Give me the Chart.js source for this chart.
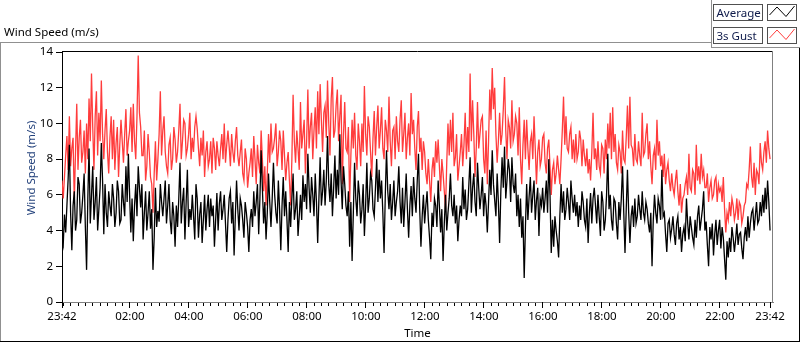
<!DOCTYPE html>
<html><head><meta charset="utf-8">
<script src="https://cdn.jsdelivr.net/npm/chart.js@4.4.1/dist/chart.umd.min.js"></script>
<style>html,body{margin:0;padding:0;background:#fff;overflow:hidden}canvas{display:block}</style>
</head><body>
<canvas id="c" width="800" height="342"></canvas>
<script>
// ---- data ----
const chartTitle = 'Wind Speed (m/s)';
const yAxisTitle = 'Wind Speed (m/s)';
const xAxisTitle = 'Time';
const seriesNames = ['Average', '3s Gust'];
const stepMinutes = 2.5;          // sample spacing (minutes after 23:42)
const axisMaxMinutes = 1446;
const majorTickMinutes = [0, 138, 258, 378, 498, 618, 738, 858, 978, 1098, 1218, 1338, 1440];
const majorTickLabels = ['23:42', '02:00', '04:00', '06:00', '08:00', '10:00', '12:00', '14:00', '16:00', '18:00', '20:00', '22:00', '23:42'];
const minorTickFirst = 3, minorTickStep = 15;
const yTickValues = [0, 2, 4, 6, 8, 10, 12, 14];

const averageSpeed = [
3.6,3.2,4.9,3.9,5.4,6.9,8.8,5.0,2.9,5.4,6.2,4.0,4.6,7.0,6.6,4.4,5.0,6.0,7.2,4.2,
1.8,5.8,8.6,4.4,6.0,7.6,4.6,5.6,7.0,4.0,5.2,6.4,8.9,6.8,3.8,6.6,5.0,4.2,6.2,5.4,
4.8,6.6,5.8,4.2,5.0,6.8,6.2,4.4,4.6,6.6,5.6,4.8,7.6,5.6,8.3,6.0,3.9,5.8,3.4,5.4,
6.6,4.8,7.6,6.4,5.3,6.6,3.5,5.0,6.2,4.0,5.0,6.2,4.1,5.2,1.8,3.6,6.4,4.2,5.1,4.5,
6.6,5.6,4.8,5.8,6.8,4.4,5.4,6.6,4.6,3.8,5.6,4.8,3.1,5.4,4.2,5.8,7.8,4.4,5.6,6.4,
3.5,5.6,7.4,4.2,5.2,4.6,6.0,4.8,3.5,6.6,5.8,3.6,4.9,5.6,3.3,4.6,6.0,4.0,5.2,6.0,
4.2,5.8,4.8,5.4,3.1,4.6,6.1,4.0,5.5,6.2,4.6,5.2,6.0,4.4,2.8,4.6,5.8,6.2,4.4,5.6,
2.6,4.8,6.8,5.2,
4.0,5.8,5.4,4.6,3.6,5.6,5.0,4.2,2.8,4.6,5.2,4.2,6.2,4.8,5.6,6.6,3.8,5.8,8.5,6.4,
4.4,5.6,3.5,5.0,7.2,5.6,4.2,5.8,7.8,6.0,5.0,4.4,6.8,5.2,2.9,5.4,7.0,4.8,6.2,4.6,
2.8,5.6,4.2,5.8,7.2,4.6,5.2,6.2,3.7,4.8,6.0,4.6,7.1,5.6,6.6,5.2,8.3,6.4,5.0,7.0,
6.0,4.8,7.2,5.6,3.3,5.8,8.1,5.4,6.2,7.4,5.4,6.8,9.3,6.6,5.6,7.2,4.8,6.4,8.2,5.8,
7.4,6.0,9.4,6.8,5.2,7.6,6.6,5.4,4.8,6.2,3.1,5.6,2.3,5.0,7.8,5.8,4.8,6.8,6.0,4.4,
5.2,6.6,3.7,5.4,7.8,5.0,5.8,7.2,6.8,5.2,4.8,6.4,8.0,5.6,7.4,5.8,6.8,5.0,2.75,6.0,
8.5,6.2,5.2,6.6,4.6,5.6,6.8,4.8,5.6,6.2,7.6,5.6,4.4,6.4,4.2,5.6,7.2,5.2,3.6,5.4,
6.5,4.8,7.0,5.8,5.0,6.8,
8.3,5.2,3.1,4.8,6.0,4.4,5.4,6.2,4.6,3.6,2.4,5.0,4.2,5.8,5.4,4.2,6.8,5.4,3.9,5.2,
2.3,4.4,6.0,4.0,5.0,5.8,7.2,5.4,4.8,6.0,4.4,5.4,3.4,4.6,5.4,4.8,7.0,5.2,6.3,4.6,
5.2,6.6,8.1,5.0,6.4,7.2,5.6,4.8,7.8,6.4,5.2,6.0,7.0,4.8,6.1,5.4,3.9,5.6,7.4,6.0,
8.5,6.6,5.7,4.8,7.2,5.6,3.3,6.2,8.1,6.4,8.7,5.8,6.8,8.0,7.4,5.6,8.1,6.6,6.1,7.2,
4.8,6.0,4.2,5.8,3.6,4.8,1.35,4.2,6.6,4.6,5.9,7.0,5.0,6.0,6.8,4.6,5.7,6.4,3.7,5.8,
5.4,6.4,5.0,5.8,6.8,5.0,8.0,6.0,2.75,4.6,3.1,4.8,4.0,3.4,2.5,4.8,6.6,5.0,6.2,4.6,
5.2,6.4,5.6,4.6,6.8,5.8,5.0,6.0,4.8,5.6,4.2,5.4,4.6,6.2,5.6,4.6,4.2,5.8,3.3,5.0,
6.1,4.4,5.8,6.4,5.4,4.4,
6.0,4.8,3.7,6.2,5.6,4.0,4.6,6.0,8.3,5.2,6.0,4.6,4.0,5.8,5.6,4.4,3.5,5.6,4.6,5.8,
7.6,5.0,2.75,5.2,7.4,5.0,3.3,4.8,5.4,4.2,5.8,4.4,4.8,6.0,5.2,4.6,6.2,5.0,4.6,5.6,
5.2,4.4,3.9,5.0,2.0,4.6,6.0,5.0,4.4,5.8,5.4,4.6,7.4,4.8,5.0,3.8,2.8,4.4,4.6,3.6,
4.1,4.8,3.8,3.2,4.4,4.8,3.5,4.2,2.8,3.8,4.2,3.4,5.8,4.4,3.5,4.8,4.2,3.6,3.2,4.6,
3.6,4.8,5.4,4.0,4.6,5.2,6.2,4.0,4.5,3.2,2.0,4.2,3.5,4.4,2.6,3.8,4.6,3.2,4.0,4.6,
3.0,4.2,3.6,2.4,1.25,3.4,2.5,3.6,2.8,4.2,3.6,2.8,3.5,4.4,3.2,3.8,3.9,3.0,2.4,3.6,
4.2,3.4,4.8,3.6,4.4,5.0,5.2,4.0,4.8,5.6,4.4,4.6,5.6,4.8,6.0,5.0,6.4,5.2,6.8,5.6,
4.0
];

const gustSpeed = [
6.8,5.8,7.0,8.2,9.3,7.4,10.4,7.6,8.6,9.2,5.6,8.4,11.1,7.4,9.2,10.2,7.8,8.4,9.6,7.2,
10.0,8.0,11.4,9.0,12.8,9.8,7.4,10.4,11.8,8.2,10.6,9.0,12.4,9.4,8.0,9.6,10.8,8.4,7.2,9.2,
10.4,8.0,10.2,7.4,8.9,9.8,7.0,8.8,10.2,9.0,7.8,9.4,10.8,8.2,9.0,9.6,10.9,8.4,11.1,9.0,
8.0,10.4,13.8,10.6,9.8,8.2,8.2,9.6,6.8,7.6,9.4,8.4,7.0,6.6,5.0,7.2,9.0,6.8,8.0,9.4,
11.8,8.2,9.6,10.4,8.4,7.6,7.2,8.8,9.2,7.4,8.0,9.8,9.1,7.8,8.4,9.6,11.1,8.0,9.0,10.2,
10.0,8.2,8.6,9.4,10.6,8.0,9.2,8.4,9.8,10.4,9.7,8.6,7.6,9.2,8.2,9.6,7.0,8.4,9.0,7.6,
8.0,9.0,7.2,9.2,8.6,7.4,9.0,8.2,7.6,8.6,9.4,8.0,10.0,7.8,8.8,9.6,8.7,7.6,9.4,8.4,
7.8,9.0,9.8,8.2,
7.6,8.4,9.1,7.2,6.8,8.6,8.0,6.4,7.2,7.8,8.6,7.0,9.3,8.0,6.6,8.8,7.8,7.2,9.6,8.0,
6.2,7.6,5.4,7.2,9.4,7.8,10.0,8.4,8.6,9.2,10.0,7.6,8.4,9.6,9.0,7.4,9.6,8.2,6.8,7.8,
8.4,6.8,5.4,8.0,11.6,9.0,7.8,9.6,8.6,7.4,11.2,8.6,9.4,10.2,7.2,9.0,11.9,8.6,9.8,10.6,
8.0,9.6,10.9,8.6,11.8,9.4,12.2,10.2,8.4,10.6,11.0,9.2,12.4,10.0,8.2,11.4,12.6,9.2,9.6,11.0,
11.9,9.0,10.4,11.6,6.6,9.4,11.2,8.6,8.4,9.8,5.6,8.2,10.2,8.6,10.6,8.2,7.4,10.0,9.0,7.6,
10.0,8.4,12.1,9.4,8.2,10.4,9.8,8.4,7.0,9.2,10.7,8.2,9.8,11.0,8.6,9.6,10.9,8.6,8.0,10.2,
9.6,8.4,11.5,9.0,7.6,9.6,9.8,8.0,10.4,9.0,8.4,10.2,11.3,8.4,9.4,10.6,8.0,9.2,10.0,8.2,
11.7,9.4,10.2,8.6,7.4,9.8,
10.7,8.4,9.2,7.4,9.0,8.4,7.2,6.6,8.0,6.8,5.6,7.4,8.1,7.0,9.0,7.8,9.1,7.6,6.2,8.0,
7.2,6.2,5.2,7.8,10.0,8.2,10.2,8.4,10.6,7.6,8.1,9.4,6.8,7.6,8.4,9.4,7.6,8.8,10.6,8.0,
9.8,8.4,12.8,9.0,11.3,9.4,7.0,8.6,11.2,8.6,9.4,10.2,10.4,8.0,7.2,9.6,6.6,9.0,11.9,10.2,
13.1,10.8,12.0,9.4,7.8,9.0,10.6,8.8,9.4,10.8,12.6,9.6,8.0,10.2,9.8,8.6,11.3,9.0,9.4,10.4,
10.0,8.2,10.9,8.0,6.6,8.8,10.2,8.0,10.2,8.6,7.4,9.0,9.4,8.0,10.4,8.6,6.6,8.4,9.1,7.6,
8.0,9.2,9.4,7.8,7.2,8.6,9.1,7.6,6.0,7.4,7.8,6.6,7.2,8.2,7.4,6.6,8.0,9.6,11.5,8.8,
10.4,8.6,8.4,9.4,9.8,8.0,9.1,7.8,9.4,8.0,8.4,9.6,9.1,7.6,9.1,8.2,7.6,8.6,7.2,8.0,
6.8,8.4,10.6,8.0,8.6,7.4,
9.0,7.6,7.2,8.8,8.6,7.2,9.1,8.0,10.0,8.6,10.6,8.0,10.9,8.4,9.4,7.8,7.4,8.8,8.4,7.2,
9.6,8.0,7.8,9.2,11.0,8.6,11.5,8.8,8.6,7.6,9.4,8.0,7.8,9.0,8.2,7.6,10.6,8.2,8.4,9.4,
10.0,8.0,9.0,7.6,6.6,8.2,8.6,7.4,10.2,8.2,9.0,7.6,8.2,7.0,8.3,6.6,7.4,7.8,6.8,6.2,
7.2,6.4,6.0,6.8,7.4,6.2,5.4,6.6,5.0,5.8,6.0,6.6,7.0,6.0,8.3,6.4,6.2,7.4,7.2,6.0,
8.8,6.8,7.6,6.6,8.3,7.0,7.4,6.4,6.4,7.2,5.6,6.4,6.8,5.8,6.0,6.8,7.0,5.6,6.6,6.2,
6.4,5.6,7.0,5.2,3.9,5.0,4.6,5.6,4.8,5.8,5.4,4.6,5.0,5.8,4.6,5.6,5.4,4.4,4.8,5.4,
5.6,6.6,6.4,7.4,8.7,7.0,6.4,7.8,6.0,7.4,7.2,6.6,8.9,7.8,7.4,8.4,9.0,7.8,9.6,8.6,
8.0
];

// ---- styles ----
const FONT = '"Noto Sans", "DejaVu Sans", sans-serif';
const FS = 11.5;
const avgColor = '#000000';
const gustColor = '#ff3c3c';
Chart.defaults.font.family = FONT;
Chart.defaults.font.size = FS;
Chart.defaults.color = '#000';

const toPoints = arr => arr.map((v, i) => ({x: i * stepMinutes, y: v}));

const decorPlugin = {
  id: 'decor',
  afterDraw(chart) {
    const {ctx, chartArea: a, scales} = chart;
    ctx.save();
    ctx.lineWidth = 1;
    const line = (x1, y1, x2, y2, c) => { ctx.strokeStyle = c; ctx.beginPath(); ctx.moveTo(x1, y1); ctx.lineTo(x2, y2); ctx.stroke(); };
    // plot frame: top black, right gray
    line(a.left, a.top - 0.5, a.right, a.top - 0.5, '#000');
    line(a.right - 0.5, a.top - 1, a.right - 0.5, a.bottom + 1, '#808080');
    // longer major ticks on the time axis
    const xs = scales.x;
    majorTickMinutes.forEach(m => {
      const px = Math.round(xs.getPixelForValue(m) - 0.5) + 0.5;
      line(px, a.bottom, px, a.bottom + 6, '#000');
    });
    // outer frame
    line(0, 42.5, 712, 42.5, '#909090');
    line(0.5, 42, 0.5, 342, '#909090');
    line(0, 341.5, 800, 341.5, '#000');
    line(799.5, 48, 799.5, 342, '#000');
    // legend frame
    line(711.5, 0, 711.5, 48, '#909090');
    line(711, 47.5, 800, 47.5, '#909090');
    // chart title
    ctx.fillStyle = '#000';
    ctx.font = FS + 'px ' + FONT;
    ctx.textAlign = 'left';
    ctx.textBaseline = 'alphabetic';
    ctx.fillText(chartTitle, 4, 36);
    // y axis title
    ctx.save();
    ctx.translate(34.5, 168);
    ctx.rotate(-Math.PI / 2);
    ctx.textAlign = 'center';
    ctx.fillStyle = '#24427c';
    ctx.fillText(yAxisTitle, 0, 0);
    ctx.restore();
    // legend
    const rows = [{name: seriesNames[0], color: avgColor, y: 4.5}, {name: seriesNames[1], color: gustColor, y: 27.5}];
    rows.forEach(r => {
      ctx.strokeStyle = '#505050';
      ctx.strokeRect(713.5, r.y, 49, 16);
      ctx.strokeRect(767.5, r.y, 29, 16);
      ctx.fillStyle = '#0e1a4a';
      ctx.textAlign = 'left';
      ctx.fillText(r.name, 716.5, r.y + 12.8);
      ctx.strokeStyle = r.color;
      ctx.beginPath();
      ctx.moveTo(769.5, r.y + 10.5);
      ctx.lineTo(777, r.y + 2.5);
      ctx.lineTo(786, r.y + 12);
      ctx.lineTo(794.5, r.y + 1.5);
      ctx.stroke();
    });
    ctx.restore();
  }
};

new Chart(document.getElementById('c'), {
  type: 'line',
  data: {
    datasets: [
      {label: seriesNames[0], data: toPoints(averageSpeed), borderColor: avgColor, borderWidth: 1.3, pointRadius: 0, tension: 0, fill: false},
      {label: seriesNames[1], data: toPoints(gustSpeed), borderColor: gustColor, borderWidth: 1.3, pointRadius: 0, tension: 0, fill: false}
    ]
  },
  options: {
    responsive: false,
    animation: false,
    devicePixelRatio: 1,
    parsing: false,
    layout: {padding: {top: 52, right: 27, left: 0, bottom: 0}},
    plugins: {legend: {display: false}, tooltip: {enabled: false}, title: {display: false}},
    scales: {
      x: {
        type: 'linear', min: 0, max: axisMaxMinutes,
        afterBuildTicks(scale) {
          const s = new Set(majorTickMinutes);
          for (let m = minorTickFirst; m < majorTickMinutes[majorTickMinutes.length - 1]; m += minorTickStep) s.add(m);
          scale.ticks = [...s].sort((p, q) => p - q).map(v => ({value: v}));
        },
        afterFit(scale) { scale.height = 40; },
        grid: {display: true, drawOnChartArea: false, drawTicks: true, tickLength: 4, tickColor: '#000'},
        border: {display: true, color: '#808080'},
        ticks: {
          autoSkip: false, maxRotation: 0, minRotation: 0, padding: 4, color: '#000',
          callback(v) { const k = majorTickMinutes.indexOf(v); return k >= 0 ? majorTickLabels[k] : ''; }
        },
        title: {display: true, text: xAxisTitle, color: '#000', padding: {top: 0, bottom: 1}}
      },
      y: {
        type: 'linear', min: 0, max: 14,
        afterBuildTicks(scale) { scale.ticks = yTickValues.map(v => ({value: v})); },
        afterFit(scale) { scale.width = 62; },
        grid: {display: true, drawOnChartArea: false, drawTicks: true, tickLength: 6, tickColor: '#000'},
        border: {display: true, color: '#000'},
        ticks: {padding: 3, color: '#000'}
      }
    }
  },
  plugins: [decorPlugin]
});
</script>
</body></html>
